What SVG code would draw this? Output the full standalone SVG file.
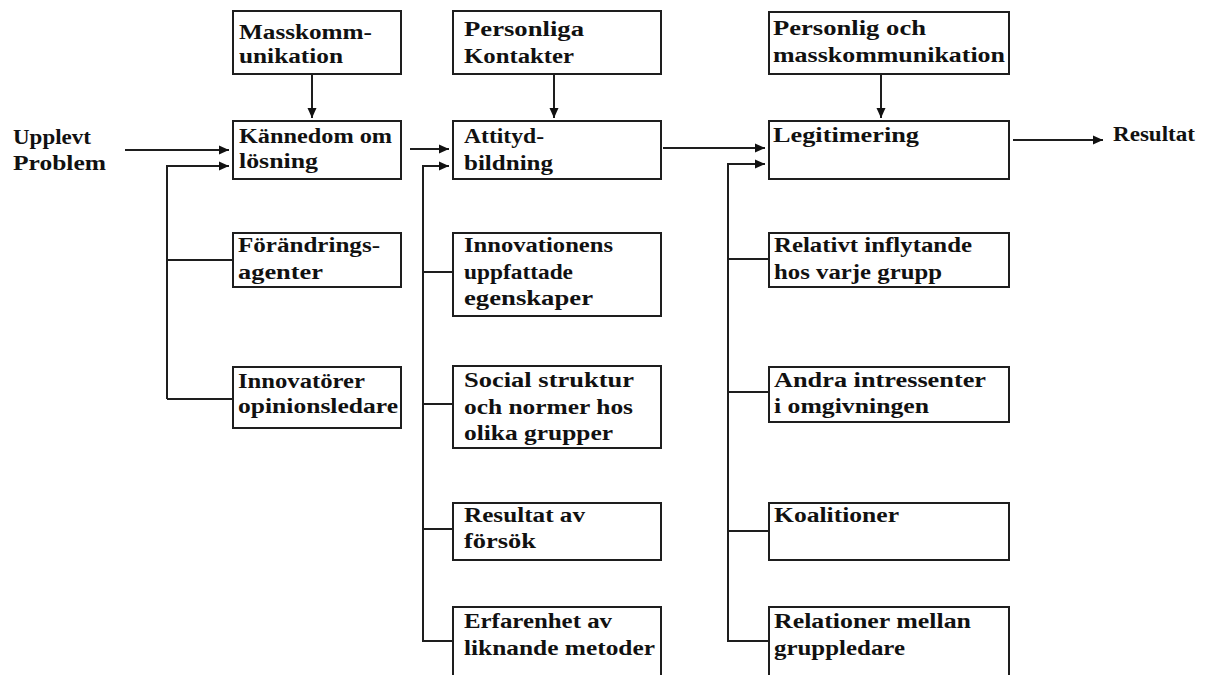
<svg xmlns="http://www.w3.org/2000/svg" width="1215" height="675" viewBox="0 0 1215 675">
<style>
.box{fill:#fff;stroke:#1e1e1e;stroke-width:2}
.ln{fill:none;stroke:#1e1e1e;stroke-width:2}
.ar{fill:none;stroke:#1e1e1e;stroke-width:2;marker-end:url(#ah)}
text{font-family:"Liberation Serif","Times New Roman",serif;font-weight:bold;font-size:20px;fill:#111}
</style>
<defs>
<marker id="ah" markerUnits="userSpaceOnUse" markerWidth="11" markerHeight="10" refX="10" refY="5" orient="auto">
<path d="M0,0.5 L10,5 L0,9.5 z" fill="#111"/>
</marker>
</defs>
<rect width="1215" height="675" fill="#fff"/>
<g id="connectors">
<line class="ar" x1="312" y1="75" x2="312" y2="118"/>
<line class="ar" x1="554" y1="75" x2="554" y2="118"/>
<line class="ar" x1="881" y1="75" x2="881" y2="118"/>
<line class="ar" x1="125" y1="150" x2="229" y2="150"/>
<polyline class="ar" points="167,399 167,166 229,166"/>
<line class="ln" x1="167" y1="260" x2="233" y2="260"/>
<line class="ln" x1="167" y1="399" x2="233" y2="399"/>
<line class="ar" x1="410" y1="149" x2="449" y2="149"/>
<polyline class="ar" points="423,641 423,166 449,166"/>
<line class="ln" x1="423" y1="272" x2="453" y2="272"/>
<line class="ln" x1="423" y1="404" x2="453" y2="404"/>
<line class="ln" x1="423" y1="529" x2="453" y2="529"/>
<line class="ln" x1="422" y1="641" x2="453" y2="641"/>
<line class="ar" x1="663" y1="148" x2="765" y2="148"/>
<polyline class="ar" points="728,641 728,164 765,164"/>
<line class="ln" x1="728" y1="259" x2="769" y2="259"/>
<line class="ln" x1="728" y1="392" x2="769" y2="392"/>
<line class="ln" x1="728" y1="531" x2="769" y2="531"/>
<line class="ln" x1="727" y1="641" x2="769" y2="641"/>
<line class="ar" x1="1013" y1="140" x2="1103" y2="140"/>
</g>
<g id="upplevt">
<text x="13" y="144" textLength="78" lengthAdjust="spacingAndGlyphs">Upplevt</text>
<text x="13" y="170" textLength="93" lengthAdjust="spacingAndGlyphs">Problem</text>
</g>
<g id="masskommunikation">
<rect class="box" x="233" y="11" width="168" height="63"/>
<text x="239" y="39" textLength="133" lengthAdjust="spacingAndGlyphs">Masskomm-</text>
<text x="239" y="63" textLength="104" lengthAdjust="spacingAndGlyphs">unikation</text>
</g>
<g id="kannedom">
<rect class="box" x="233" y="121" width="168" height="58"/>
<text x="239" y="143" textLength="153" lengthAdjust="spacingAndGlyphs">Kännedom om</text>
<text x="239" y="168" textLength="79" lengthAdjust="spacingAndGlyphs">lösning</text>
</g>
<g id="forandringsagenter">
<rect class="box" x="233" y="233" width="168" height="54"/>
<text x="238" y="252" textLength="142" lengthAdjust="spacingAndGlyphs">Förändrings-</text>
<text x="238" y="279" textLength="85" lengthAdjust="spacingAndGlyphs">agenter</text>
</g>
<g id="innovatorer">
<rect class="box" x="233" y="367" width="168" height="61"/>
<text x="238" y="388" textLength="127" lengthAdjust="spacingAndGlyphs">Innovatörer</text>
<text x="238" y="413" textLength="160" lengthAdjust="spacingAndGlyphs">opinionsledare</text>
</g>
<g id="personliga">
<rect class="box" x="453" y="11" width="208" height="63"/>
<text x="464" y="36" textLength="120" lengthAdjust="spacingAndGlyphs">Personliga</text>
<text x="464" y="63" textLength="110" lengthAdjust="spacingAndGlyphs">Kontakter</text>
</g>
<g id="attityd">
<rect class="box" x="453" y="121" width="208" height="58"/>
<text x="464" y="143" textLength="80" lengthAdjust="spacingAndGlyphs">Attityd-</text>
<text x="464" y="170" textLength="89" lengthAdjust="spacingAndGlyphs">bildning</text>
</g>
<g id="innovationens">
<rect class="box" x="453" y="233" width="208" height="83"/>
<text x="464" y="252" textLength="149" lengthAdjust="spacingAndGlyphs">Innovationens</text>
<text x="464" y="279" textLength="109" lengthAdjust="spacingAndGlyphs">uppfattade</text>
<text x="464" y="305" textLength="129" lengthAdjust="spacingAndGlyphs">egenskaper</text>
</g>
<g id="social">
<rect class="box" x="453" y="366" width="208" height="82"/>
<text x="464" y="387" textLength="170" lengthAdjust="spacingAndGlyphs">Social struktur</text>
<text x="464" y="414" textLength="169" lengthAdjust="spacingAndGlyphs">och normer hos</text>
<text x="464" y="440" textLength="149" lengthAdjust="spacingAndGlyphs">olika grupper</text>
</g>
<g id="resultatav">
<rect class="box" x="453" y="503" width="208" height="57"/>
<text x="464" y="522" textLength="121" lengthAdjust="spacingAndGlyphs">Resultat av</text>
<text x="464" y="548" textLength="72" lengthAdjust="spacingAndGlyphs">försök</text>
</g>
<g id="erfarenhet">
<rect class="box" x="453" y="607" width="208" height="90"/>
<text x="464" y="628" textLength="148" lengthAdjust="spacingAndGlyphs">Erfarenhet av</text>
<text x="464" y="655" textLength="191" lengthAdjust="spacingAndGlyphs">liknande metoder</text>
</g>
<g id="personligoch">
<rect class="box" x="769" y="12" width="240" height="62"/>
<text x="773" y="35" textLength="153" lengthAdjust="spacingAndGlyphs">Personlig och</text>
<text x="773" y="62" textLength="232" lengthAdjust="spacingAndGlyphs">masskommunikation</text>
</g>
<g id="legitimering">
<rect class="box" x="769" y="121" width="240" height="58"/>
<text x="773" y="142" textLength="146" lengthAdjust="spacingAndGlyphs">Legitimering</text>
</g>
<g id="resultat">
<text x="1113" y="141" textLength="82" lengthAdjust="spacingAndGlyphs">Resultat</text>
</g>
<g id="relativt">
<rect class="box" x="769" y="233" width="240" height="54"/>
<text x="774" y="252" textLength="198" lengthAdjust="spacingAndGlyphs">Relativt inflytande</text>
<text x="774" y="279" textLength="168" lengthAdjust="spacingAndGlyphs">hos varje grupp</text>
</g>
<g id="andra">
<rect class="box" x="769" y="367" width="240" height="55"/>
<text x="774" y="387" textLength="212" lengthAdjust="spacingAndGlyphs">Andra intressenter</text>
<text x="774" y="413" textLength="155" lengthAdjust="spacingAndGlyphs">i omgivningen</text>
</g>
<g id="koalitioner">
<rect class="box" x="769" y="503" width="240" height="57"/>
<text x="774" y="522" textLength="125" lengthAdjust="spacingAndGlyphs">Koalitioner</text>
</g>
<g id="relationer">
<rect class="box" x="769" y="607" width="240" height="90"/>
<text x="774" y="628" textLength="197" lengthAdjust="spacingAndGlyphs">Relationer mellan</text>
<text x="774" y="655" textLength="131" lengthAdjust="spacingAndGlyphs">gruppledare</text>
</g>
</svg>
